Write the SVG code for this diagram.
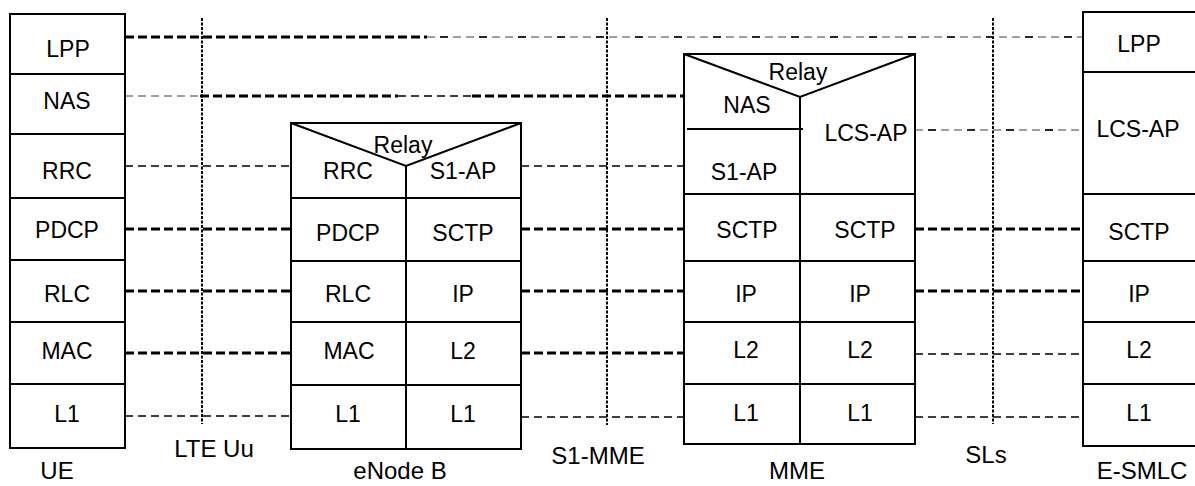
<svg xmlns="http://www.w3.org/2000/svg" width="1195" height="486" viewBox="0 0 1195 486">
<style>
.box{fill:#fff;stroke:#000;stroke-width:2}
.ln{stroke:#000;stroke-width:2;fill:none}
.t{font-family:"Liberation Sans",Arial,sans-serif;font-size:23px;text-anchor:middle;fill:#000}
.lbl{font-family:"Liberation Sans",Arial,sans-serif;font-size:24px;text-anchor:middle;fill:#000}
.thick{stroke:#000;stroke-width:3;stroke-dasharray:9 4;fill:none}
.thin{stroke:#000;stroke-width:1.3;stroke-dasharray:8 5;fill:none}
.grey{stroke:#808080;stroke-width:1.5;stroke-dasharray:8 5;fill:none}
.greyblk{stroke:#000;stroke-width:1.5;stroke-dasharray:8 31;fill:none}
.ref{stroke:#000;stroke-width:2;stroke-dasharray:3 1.5;fill:none}
</style>
<rect width="1195" height="486" fill="#fff"/>

<g id="interfaces">
  <line class="ref" x1="202" y1="18" x2="202" y2="424"/>
  <line class="ref" x1="607" y1="18" x2="607" y2="425"/>
  <line class="ref" x1="993" y1="18" x2="993" y2="424"/>
  <text class="lbl" x="214" y="457">LTE Uu</text>
  <text class="lbl" x="598" y="464">S1-MME</text>
  <text class="lbl" x="986" y="463">SLs</text>
</g>

<g id="connectors">
  <line class="thick" x1="125" y1="37" x2="427" y2="37"/>
  <line class="grey" x1="427" y1="37" x2="1083" y2="37"/>
  <line class="greyblk" x1="440" y1="37" x2="1083" y2="37"/>
  <line class="grey" x1="125" y1="96" x2="200" y2="96"/>
  <line class="thick" x1="200" y1="96" x2="398" y2="96"/>
  <line class="thin" x1="398" y1="96" x2="472" y2="96"/>
  <line class="thick" x1="472" y1="96" x2="684" y2="96"/>
  <line class="thin" x1="125" y1="166" x2="291" y2="166"/>
  <line class="thin" x1="521" y1="166" x2="684" y2="166"/>
  <line class="grey" x1="915" y1="130" x2="1083" y2="130"/>
  <line class="greyblk" x1="928" y1="130" x2="1083" y2="130"/>
  <line class="thick" x1="125" y1="229" x2="291" y2="229"/>
  <line class="thick" x1="521" y1="229" x2="684" y2="229"/>
  <line class="thick" x1="915" y1="229" x2="1083" y2="229"/>
  <line class="thick" x1="125" y1="291" x2="291" y2="291"/>
  <line class="thick" x1="521" y1="291" x2="684" y2="291"/>
  <line class="thick" x1="915" y1="291" x2="1083" y2="291"/>
  <line class="thick" x1="125" y1="353" x2="291" y2="353"/>
  <line class="thick" x1="521" y1="353" x2="684" y2="353"/>
  <line class="thin" x1="915" y1="354" x2="1083" y2="354"/>
  <line class="thin" x1="125" y1="416" x2="291" y2="416"/>
  <line class="thin" x1="521" y1="417" x2="684" y2="417"/>
  <line class="thin" x1="915" y1="417" x2="1083" y2="417"/>
</g>

<g id="UE">
  <rect class="box" x="10" y="14" width="115" height="434"/>
  <path class="ln" d="M10 74H125M10 134H125M10 198H125M10 260H125M10 322H125M10 384H125"/>
  <text class="t" x="68" y="57">LPP</text>
  <text class="t" x="67" y="109">NAS</text>
  <text class="t" x="67" y="179">RRC</text>
  <text class="t" x="67" y="238">PDCP</text>
  <text class="t" x="67" y="302">RLC</text>
  <text class="t" x="67" y="359">MAC</text>
  <text class="t" x="67" y="422">L1</text>
  <text class="lbl" x="57" y="479">UE</text>
</g>

<g id="eNodeB">
  <rect class="box" x="291" y="123" width="230" height="326"/>
  <path class="ln" d="M291 123L406 166L521 123M406 166V449M291 198H521M291 261H521M291 322H521M291 385H521"/>
  <text class="t" x="403" y="153">Relay</text>
  <text class="t" x="348" y="179">RRC</text>
  <text class="t" x="463" y="179">S1-AP</text>
  <text class="t" x="348" y="241">PDCP</text>
  <text class="t" x="463" y="241">SCTP</text>
  <text class="t" x="348" y="302">RLC</text>
  <text class="t" x="463" y="302">IP</text>
  <text class="t" x="349" y="359">MAC</text>
  <text class="t" x="463" y="359">L2</text>
  <text class="t" x="348" y="422">L1</text>
  <text class="t" x="463" y="422">L1</text>
  <text class="lbl" x="400" y="479">eNode B</text>
</g>

<g id="MME">
  <rect class="box" x="684" y="54" width="231" height="390"/>
  <path class="ln" d="M684 54L800 97L915 54M800 97V444M687 129H803M684 194H915M684 261H915M684 322H915M684 384H915"/>
  <text class="t" x="798" y="80">Relay</text>
  <text class="t" x="747" y="113">NAS</text>
  <text class="t" x="744" y="180">S1-AP</text>
  <text class="t" x="866" y="141">LCS-AP</text>
  <text class="t" x="747" y="238">SCTP</text>
  <text class="t" x="865" y="238">SCTP</text>
  <text class="t" x="746" y="302">IP</text>
  <text class="t" x="860" y="302">IP</text>
  <text class="t" x="746" y="358">L2</text>
  <text class="t" x="860" y="358">L2</text>
  <text class="t" x="746" y="421">L1</text>
  <text class="t" x="860" y="421">L1</text>
  <text class="lbl" x="797" y="479">MME</text>
</g>

<g id="E-SMLC">
  <rect class="box" x="1083" y="12" width="130" height="434"/>
  <path class="ln" d="M1083 72H1195M1083 194H1195M1083 261H1195M1083 322H1195M1083 384H1195"/>
  <text class="t" x="1139" y="52">LPP</text>
  <text class="t" x="1138" y="137">LCS-AP</text>
  <text class="t" x="1139" y="240">SCTP</text>
  <text class="t" x="1139" y="302">IP</text>
  <text class="t" x="1139" y="358">L2</text>
  <text class="t" x="1139" y="421">L1</text>
  <text class="lbl" x="1142" y="479">E-SMLC</text>
</g>
</svg>
